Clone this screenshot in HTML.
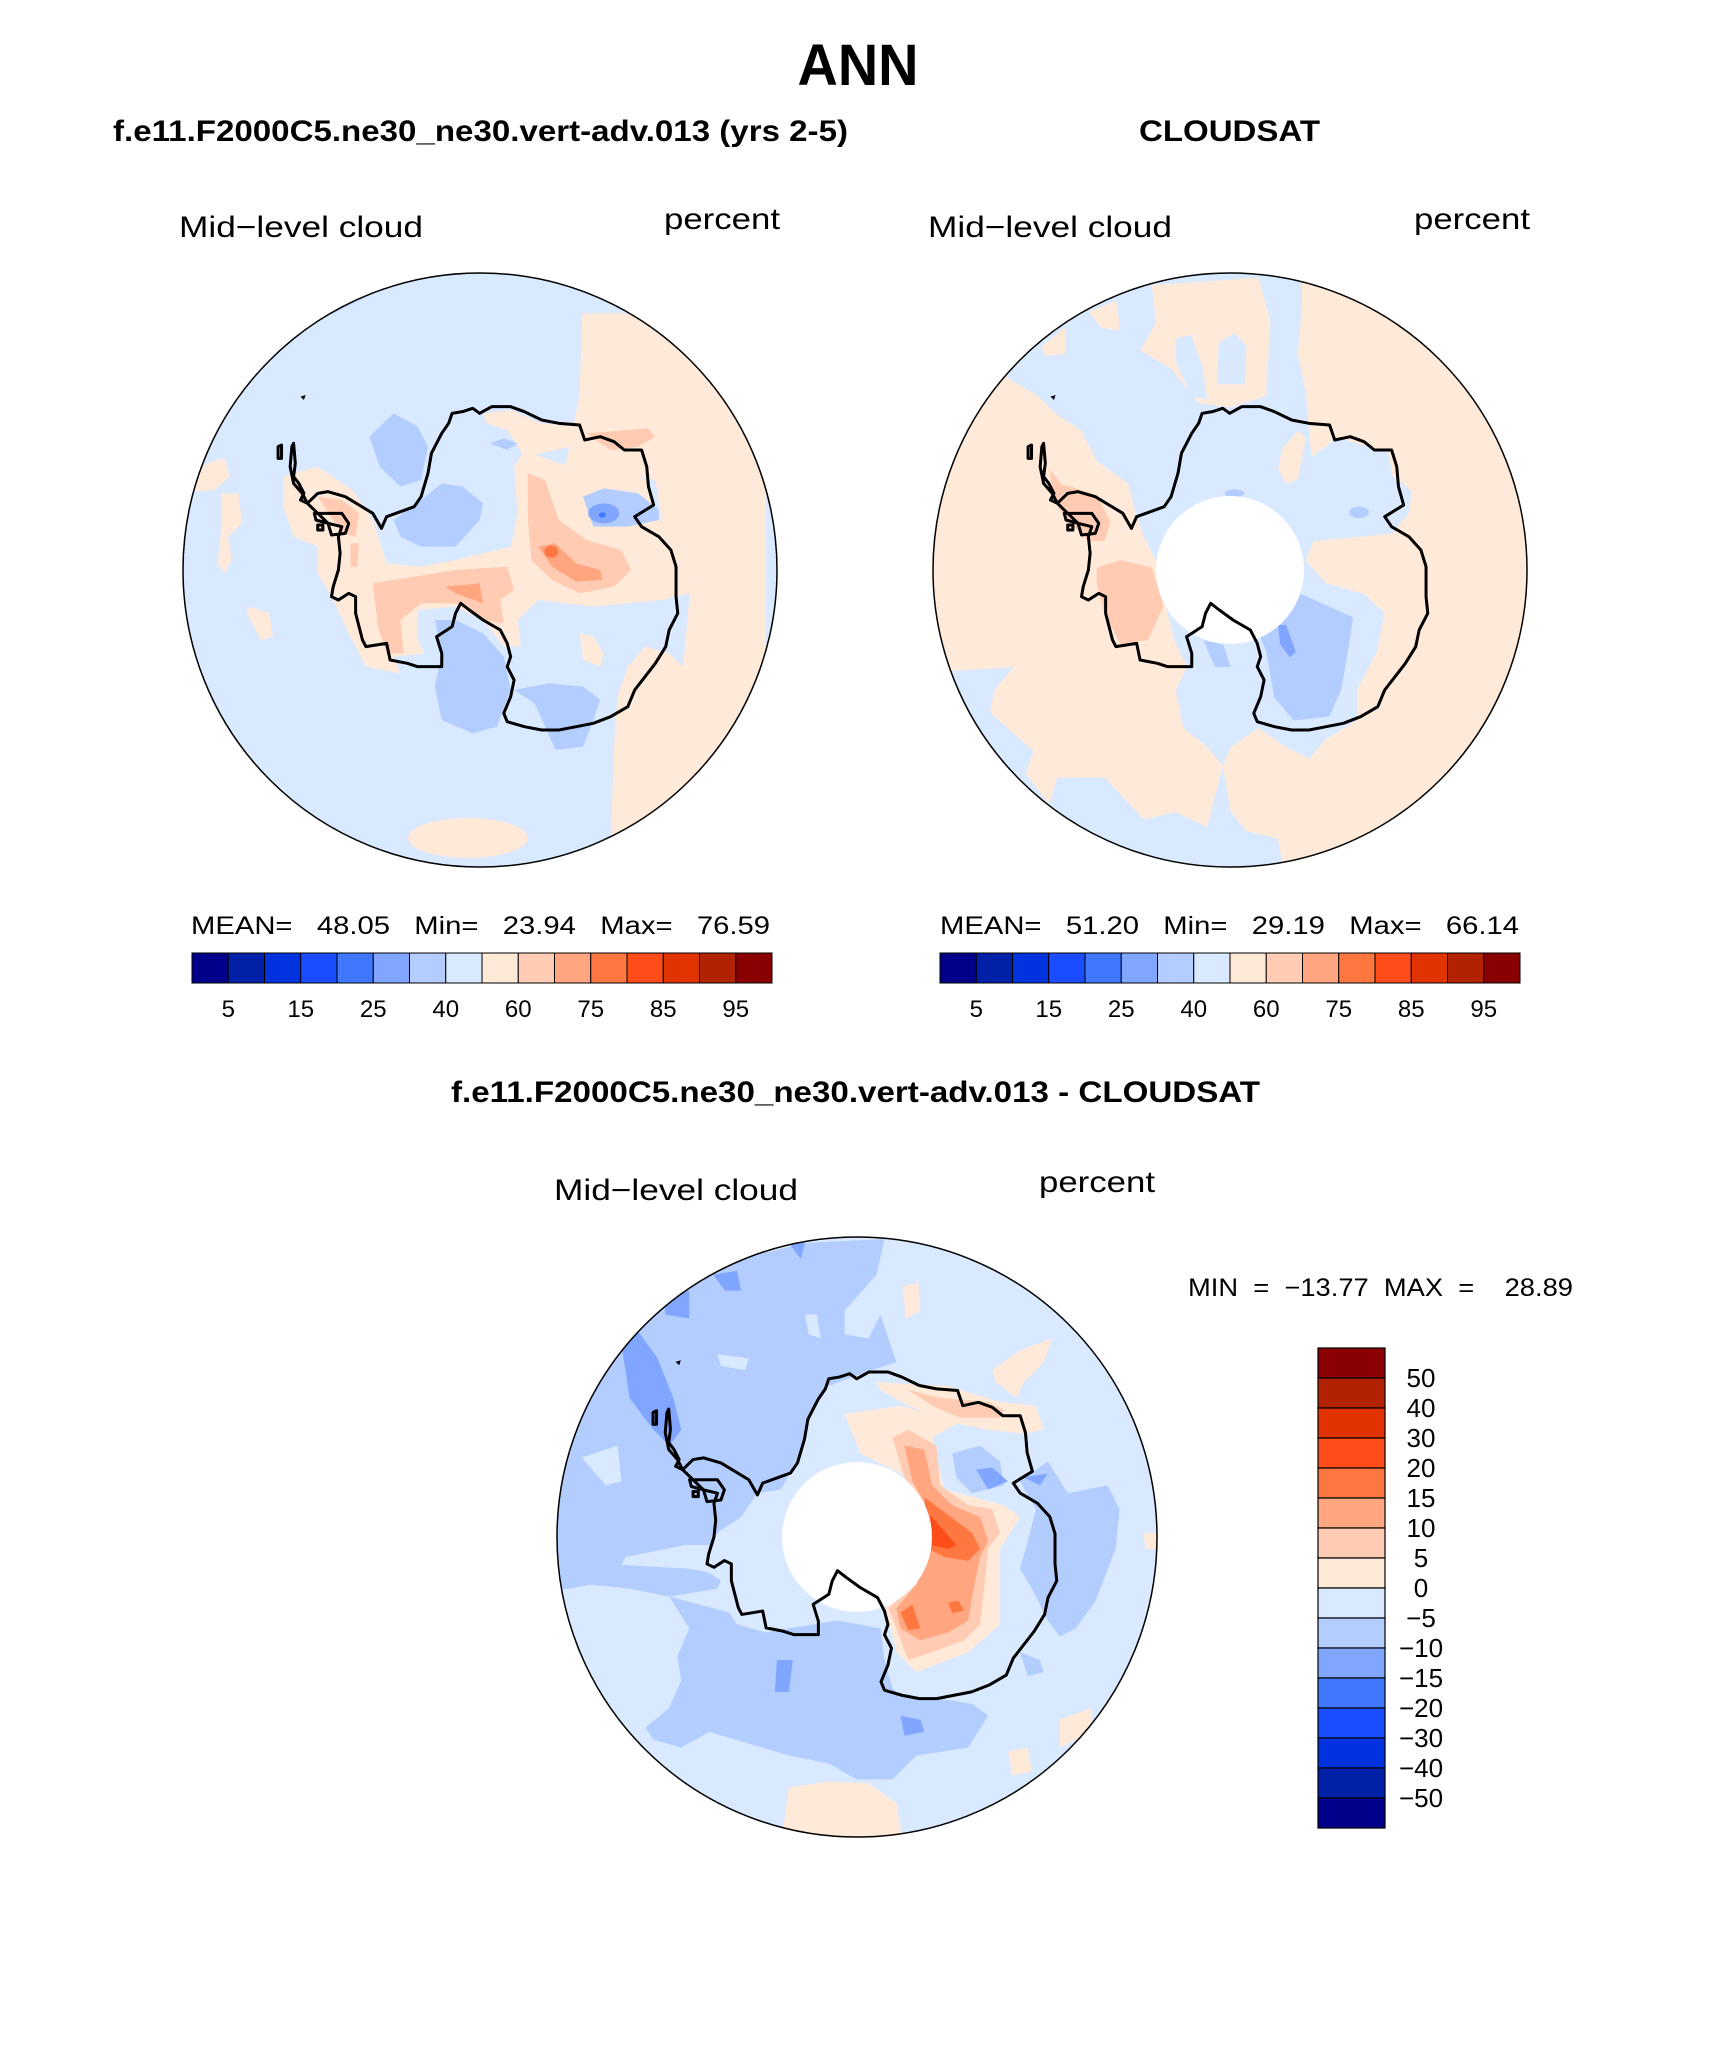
<!DOCTYPE html>
<html><head><meta charset="utf-8"><style>
html,body{margin:0;padding:0;background:#fff}
svg{display:block}
text{font-family:"Liberation Sans",sans-serif;fill:#000}
.b{font-weight:bold}
</style></head><body>
<svg id="fig" width="1710" height="2061" viewBox="0 0 1710 2061" xmlns="http://www.w3.org/2000/svg">
<defs>
<clipPath id="cL"><circle cx="480" cy="570" r="297"/></clipPath>
<clipPath id="cR"><circle cx="1230" cy="570" r="297"/></clipPath>
<clipPath id="cB"><circle cx="857" cy="1537" r="300"/></clipPath>
<path id="coast" fill="none" stroke="#000" stroke-width="3" vector-effect="non-scaling-stroke" stroke-linejoin="round" d="M330,190 L335,250 L330,290 L345,310 L360,340 L350,360 L370,370 L400,340 L430,335 L480,350 L520,375 L560,400 L585,445 L600,410 L640,395 L680,380 L700,350 L720,280 L730,220 L760,160 L780,130 L790,100 L820,95 L850,85 L870,100 L905,80 L960,80 L1000,95 L1050,120 L1100,130 L1160,135 L1175,180 L1220,170 L1260,185 L1290,210 L1340,210 L1355,260 L1360,320 L1375,375 L1320,410 L1340,440 L1390,470 L1425,510 L1440,560 L1440,650 L1445,700 L1420,750 L1410,800 L1380,850 L1350,890 L1320,930 L1300,980 L1250,1010 L1200,1030 L1150,1040 L1100,1050 L1050,1050 L1000,1040 L950,1025 L940,1000 L960,950 L970,900 L950,860 L960,830 L950,790 L930,750 L880,720 L840,690 L815,670 L800,700 L790,740 L760,760 L745,770 L760,820 L760,860 L720,860 L690,860 L660,850 L610,840 L600,790 L540,800 L530,780 L520,740 L510,700 L510,650 L490,640 L460,660 L440,650 L445,620 L460,570 L465,520 L460,470 L470,440 L430,430 L400,400 L370,370 L355,340 L330,310 L320,260 L325,200 Z M390,400 L470,400 L490,430 L480,460 L440,465 L430,430 L395,420 Z M400,435 L415,435 L415,450 L400,450 Z M285,200 L295,195 L295,235 L285,235 Z"/>
</defs>

<text x="858" y="85" text-anchor="middle" class="b" font-size="58" textLength="121" lengthAdjust="spacingAndGlyphs">ANN</text>
<text x="113" y="141" class="b" font-size="30" textLength="735" lengthAdjust="spacingAndGlyphs">f.e11.F2000C5.ne30_ne30.vert-adv.013 (yrs 2-5)</text>
<text x="1139" y="141" class="b" font-size="30" textLength="181" lengthAdjust="spacingAndGlyphs">CLOUDSAT</text>

<!-- LEFT PLOT -->
<g>
<g clip-path="url(#cL)">
<circle cx="480" cy="570" r="297" fill="#d9e9ff"/>
<g transform="translate(480,570) scale(0.34455,0.33333) translate(-871,-570)">
<path fill="#ffe9d9" d="M1168,-200 L1700,-200 L1700,1400 L1250,1400 L1260,1100 L1270,950 L1300,860 L1350,800 L1420,820 L1460,860 L1480,640 L1470,520 L1400,440 L1380,300 L1200,270 L1120,250 L1140,150 L1160,40 Z"/>
<path fill="#ffe9d9" d="M300,290 L400,260 L500,330 L560,420 L600,550 L700,560 L800,540 L960,500 L980,400 L970,260 L1000,210 L1100,250 L1280,270 L1350,300 L1400,440 L1470,520 L1480,640 L1400,660 L1200,680 L1040,660 L980,720 L990,800 L940,800 L880,720 L800,680 L690,690 L690,780 L710,820 L620,830 L640,880 L540,860 L490,760 L440,650 L400,580 L400,500 L330,470 L300,380 Z"/>
<path fill="#ffe9d9" d="M880,100 L960,90 L1050,130 L1170,140 L1180,190 L1000,230 L950,150 L890,130 Z"/>
<path fill="#ffe9d9" d="M60,260 L105,240 L130,235 L145,290 L100,330 L40,335 Z M120,340 L170,340 L180,430 L140,470 L150,540 L130,580 L110,550 L120,450 Z M200,680 L260,700 L270,770 L235,780 L195,700 Z M1160,760 L1200,770 L1230,820 L1220,860 L1170,840 Z"/>
<path fill="#ffccb3" d="M1010,280 L1060,300 L1100,420 L1180,480 L1280,510 L1310,570 L1260,620 L1160,640 L1080,600 L1020,540 L1010,420 Z M560,610 L800,570 L950,560 L970,630 L930,660 L940,730 L880,720 L820,670 L700,670 L640,720 L650,820 L600,820 L575,740 Z M400,350 L470,360 L520,400 L510,470 L470,460 Z M1180,160 L1360,145 L1380,170 L1330,200 L1250,210 Z M495,490 L520,490 L515,560 L495,560 Z"/>
<path fill="#ffa680" d="M1040,500 L1090,490 L1150,550 L1220,570 L1225,600 L1150,605 L1080,560 Z M770,620 L870,610 L880,670 L800,640 Z"/>
<ellipse cx="1078" cy="515" rx="20" ry="18" fill="#ff7740"/>
<path fill="#b3cdff" d="M550,170 L620,100 L690,140 L720,200 L700,300 L640,320 L580,260 Z M620,420 L660,390 L700,360 L760,310 L820,320 L880,370 L870,420 L800,500 L700,500 L640,470 Z M740,720 L800,720 L880,760 L940,830 L960,930 L920,1040 L850,1060 L760,1020 L740,920 L760,820 Z M970,930 L1070,910 L1170,920 L1220,960 L1200,1020 L1170,1100 L1090,1110 L1030,970 Z M1170,350 L1230,325 L1330,340 L1390,390 L1390,420 L1300,440 L1200,440 Z M900,190 L940,175 L980,190 L950,210 Z"/>
<ellipse cx="1230" cy="400" rx="45" ry="30" fill="#80a6ff"/>
<ellipse cx="1226" cy="405" rx="10" ry="8" fill="#4077ff"/>
</g>
<path fill="#b3cdff" d="M220,360 L250,330 L300,300 L350,282 L400,275 L370,295 L320,320 L280,345 L240,370 L225,375 Z"/>
<ellipse cx="468" cy="838" rx="60" ry="20" fill="#ffe9d9"/>
<g transform="translate(480,570) scale(0.34455,0.33333) translate(-871,-570)"><use href="#coast"/><path d="M350,50 L365,45 L360,60 Z" fill="#000"/></g>
</g>
<circle cx="480" cy="570" r="297" fill="none" stroke="#000" stroke-width="1.5"/>
</g>
<text x="179" y="237" font-size="30" textLength="244" lengthAdjust="spacingAndGlyphs">Mid−level cloud</text>
<text x="664" y="229" font-size="30" textLength="116" lengthAdjust="spacingAndGlyphs">percent</text>
<text x="191" y="934" font-size="25" textLength="579" lengthAdjust="spacingAndGlyphs" xml:space="preserve">MEAN=   48.05   Min=   23.94   Max=   76.59</text>

<!-- RIGHT PLOT -->
<g>
<g clip-path="url(#cR)">
<circle cx="1230" cy="570" r="297" fill="#d9e9ff"/>
<g transform="translate(1230,570) scale(0.39442,0.38175) translate(-758,-786)">
<path fill="#ffe9d9" d="M-50,500 L190,280 L270,330 L320,380 L380,420 L420,500 L500,560 L520,640 L540,700 L570,760 L600,900 L620,980 L650,1040 L620,1100 L640,1200 L700,1250 L740,1300 L720,1380 L700,1460 L620,1420 L540,1440 L440,1330 L320,1330 L300,1400 L240,1320 L260,1260 L150,1160 L160,1100 L210,1040 L60,1050 L-50,1050 Z"/>
<path fill="#ffe9d9" d="M940,20 L1600,-50 L1600,1620 L900,1620 L880,1490 L800,1470 L760,1420 L740,1300 L760,1250 L830,1200 L900,1250 L960,1280 L1000,1230 L1080,1180 L1080,1100 L1130,1000 L1150,900 L1100,850 L1000,820 L950,760 L970,710 L1080,700 L1170,690 L1210,640 L1220,580 L1170,540 L1160,480 L1100,460 L1030,440 L965,490 L960,440 L950,320 L930,220 L940,100 Z"/>
<path fill="#ffe9d9" d="M560,40 L830,20 L860,130 L850,330 L760,360 L680,350 L610,260 L530,210 L570,140 Z M280,200 L340,150 L340,220 L290,225 Z M400,110 L470,80 L480,160 L430,150 Z M890,470 L930,420 L950,440 L930,550 L900,560 L880,520 Z"/>
<path fill="#d9e9ff" d="M620,180 L660,170 L690,260 L700,340 L660,330 L620,240 Z M730,190 L770,165 L800,200 L795,300 L725,300 Z"/>
<path fill="#ffccb3" d="M300,520 L330,560 L420,590 L455,660 L440,710 L400,710 L340,650 L310,600 Z M420,780 L480,760 L560,780 L590,880 L550,970 L480,980 L440,900 L420,820 Z"/>
<path fill="#b3cdff" d="M880,850 L940,850 L1070,910 L1060,980 L1040,1100 L1010,1170 L920,1180 L870,1120 L850,1000 L830,950 Z M690,970 L740,980 L760,1040 L720,1040 Z"/>
<ellipse cx="1085" cy="635" rx="25" ry="15" fill="#b3cdff"/>
<ellipse cx="770" cy="585" rx="25" ry="10" fill="#b3cdff"/>
<path fill="#80a6ff" d="M880,930 L900,930 L925,1000 L910,1015 L885,980 Z"/>
</g>
<circle cx="1230" cy="570" r="74" fill="#fff"/>
<g transform="translate(1230,570) scale(0.34455,0.33333) translate(-871,-570)"><use href="#coast"/><path d="M350,50 L365,45 L360,60 Z" fill="#000"/></g>
</g>
<circle cx="1230" cy="570" r="297" fill="none" stroke="#000" stroke-width="1.5"/>
</g>
<text x="928" y="237" font-size="30" textLength="244" lengthAdjust="spacingAndGlyphs">Mid−level cloud</text>
<text x="1414" y="229" font-size="30" textLength="116" lengthAdjust="spacingAndGlyphs">percent</text>
<text x="940" y="934" font-size="25" textLength="579" lengthAdjust="spacingAndGlyphs" xml:space="preserve">MEAN=   51.20   Min=   29.19   Max=   66.14</text>

<!-- BOTTOM PLOT -->
<text x="451" y="1102" class="b" font-size="30" textLength="809" lengthAdjust="spacingAndGlyphs">f.e11.F2000C5.ne30_ne30.vert-adv.013 - CLOUDSAT</text>
<text x="554" y="1200" font-size="30" textLength="244" lengthAdjust="spacingAndGlyphs">Mid−level cloud</text>
<text x="1039" y="1192" font-size="30" textLength="116" lengthAdjust="spacingAndGlyphs">percent</text>
<text x="1188" y="1296" font-size="25" textLength="385" lengthAdjust="spacingAndGlyphs" xml:space="preserve">MIN  =  −13.77  MAX  =    28.89</text>
<g>
<g clip-path="url(#cB)">
<circle cx="857" cy="1537" r="300" fill="#d9e9ff"/>
<g transform="translate(857,1537) scale(0.39841,0.39735) translate(-771,-770)">
<path fill="#b3cdff" d="M-50,400 L100,280 L200,180 L360,110 L480,70 L640,30 L840,20 L820,110 L740,200 L740,260 L800,270 L830,210 L870,330 L780,360 L700,390 L650,470 L620,580 L580,650 L520,660 L480,720 L420,760 L400,790 L340,790 L190,820 L180,840 L350,850 L400,860 L430,880 L420,900 L300,920 L200,900 L100,890 L50,900 L-50,910 Z"/>
<path fill="#d9e9ff" d="M80,570 L170,540 L180,630 L140,640 Z M420,310 L500,320 L490,350 L430,340 Z M640,210 L670,210 L680,270 L650,260 Z"/>
<path fill="#b3cdff" d="M300,920 L450,960 L470,990 L540,1010 L600,1000 L720,980 L830,1000 L840,1080 L860,1150 L880,1170 L1000,1180 L1060,1190 L1100,1220 L1050,1300 L920,1320 L860,1380 L770,1380 L700,1340 L600,1320 L500,1290 L400,1260 L330,1300 L260,1280 L240,1250 L300,1200 L330,1130 L320,1070 L350,1000 Z"/>
<path fill="#b3cdff" d="M1180,630 L1250,580 L1300,660 L1400,640 L1430,700 L1420,800 L1370,930 L1320,1000 L1280,1020 L1250,980 L1210,900 L1180,850 L1200,780 L1220,700 Z M1010,560 L1080,540 L1130,580 L1140,640 L1060,660 L1020,620 Z M1180,1060 L1230,1080 L1240,1110 L1200,1120 Z"/>
<path fill="#80a6ff" d="M180,290 L220,250 L270,320 L310,420 L330,500 L300,540 L260,500 L200,420 L190,350 Z M410,110 L470,100 L480,150 L440,150 Z M290,160 L350,150 L350,220 L290,210 Z M1070,600 L1110,595 L1150,630 L1100,650 Z M1190,620 L1250,610 L1230,640 Z M570,1080 L610,1080 L600,1160 L565,1160 Z M880,1220 L930,1230 L940,1260 L890,1270 Z M600,30 L640,30 L630,70 Z"/>
<path fill="#ffe9d9" d="M740,460 L880,440 L1030,480 L960,520 L990,650 L1140,690 L1180,720 L1130,800 L1130,990 L1050,1060 L920,1110 L870,1060 L840,940 L900,900 L950,800 L900,620 L780,560 Z M820,380 L1000,390 L1130,430 L1220,440 L1240,500 L1190,510 L1100,500 L1000,480 L900,440 L830,400 Z M1110,350 L1180,300 L1260,270 L1240,330 L1190,380 L1170,420 L1120,380 Z M570,1620 L600,1400 L700,1385 L800,1390 L870,1440 L900,1620 Z M1280,1230 L1360,1200 L1360,1260 L1280,1300 Z M1150,1310 L1200,1300 L1210,1360 L1160,1370 Z M885,140 L925,130 L930,200 L895,220 Z M1490,760 L1530,760 L1530,800 L1495,800 Z"/>
<path fill="#ffccb3" d="M860,520 L900,500 L970,540 L980,640 L1050,690 L1110,700 L1130,760 L1100,800 L1090,900 L1080,990 L1040,1030 L960,1060 L900,1080 L870,1000 L850,950 L900,900 L940,880 L950,800 L940,700 L890,620 Z M900,400 L980,420 L1100,430 L1140,450 L1130,470 L1030,470 L960,440 Z"/>
<path fill="#ffa680" d="M890,540 L940,550 L960,640 L1010,690 L1080,720 L1100,780 L1080,820 L1060,920 L1050,980 L1000,1010 L930,1030 L880,1000 L870,950 L920,890 L950,820 L950,700 L910,630 Z"/>
<path fill="#ff7740" d="M940,670 L980,700 L1060,760 L1080,800 L1050,830 L990,820 L950,800 Z M1000,935 L1025,930 L1040,955 L1010,962 Z M880,960 L910,940 L930,1000 L900,1005 Z"/>
<path fill="#ff4d1a" d="M955,715 L990,755 L1020,790 L1000,800 L955,790 Z"/>
</g>
<circle cx="857" cy="1537" r="75" fill="#fff"/>
<g transform="translate(857,1537) scale(0.34803,0.33670) translate(-871,-570)"><use href="#coast"/><path d="M350,50 L365,45 L360,60 Z" fill="#000"/></g>
</g>
<circle cx="857" cy="1537" r="300" fill="none" stroke="#000" stroke-width="1.5"/>
</g>

<g id="cbL"></g>
<g id="cbR"></g>
<g id="cbD"></g>
</svg>
<script>
const absColors = ["#00008a","#0020a8","#0033dd","#1a4dff","#4077ff","#80a6ff","#b3cdff","#d9e9ff","#ffe9d9","#ffccb3","#ffa680","#ff7740","#ff4d1a","#e03300","#b32200","#8a0000"];
const absLevels = [5,10,15,20,25,30,40,50,60,70,75,80,85,90,95];
const absTickLabels = ["5","15","25","40","60","75","85","95"];
const diffLevels = [-50,-40,-30,-20,-15,-10,-5,0,5,10,15,20,30,40,50];
const diffTickLabels = ["50","40","30","20","15","10","5","0","−5","−10","−15","−20","−30","−40","−50"];
const NS = "http://www.w3.org/2000/svg";
function mk(tag, attrs, parent){const e=document.createElementNS(NS,tag);for(const k in attrs)e.setAttribute(k,attrs[k]);parent.appendChild(e);return e;}
function hbar(id, x0, x1, y0, y1, ly){
  const g=document.getElementById(id);
  const n=absColors.length, w=(x1-x0)/n;
  absColors.forEach((c,i)=>{
    const r=mk("rect",{x:x0+i*w,y:y0,width:w,height:y1-y0,fill:c,stroke:"#000","stroke-width":1},g);
    
    
  });
  absTickLabels.forEach((t,j)=>{
    const idx=absLevels.indexOf(+t);
    const tx=mk("text",{x:x0+(idx+1)*w,y:ly,"text-anchor":"middle","font-size":24},g);
    tx.textContent=t;
    
    
  });
}
hbar("cbL",192,772,953,983,1017);
hbar("cbR",940,1520,953,983,1017);
(function(){
  const g=document.getElementById("cbD");
  const x0=1318,x1=1385,y0=1348,y1=1828,n=absColors.length,h=(y1-y0)/n;
  for(let i=0;i<n;i++){
    const r=mk("rect",{x:x0,y:y0+i*h,width:x1-x0,height:h,fill:absColors[n-1-i],stroke:"#000","stroke-width":1.2},g);
    
    
  }
  diffTickLabels.forEach((t,i)=>{
    const lv=diffLevels[diffLevels.length-1-i];
    const pos=diffLevels.length-1-diffLevels.indexOf(lv);
    const tx=mk("text",{x:1421,y:y0+(pos+1)*h+9,"text-anchor":"middle","font-size":26},g);
    tx.textContent=t;
    
    
  });
})();
</script>
</body></html>
